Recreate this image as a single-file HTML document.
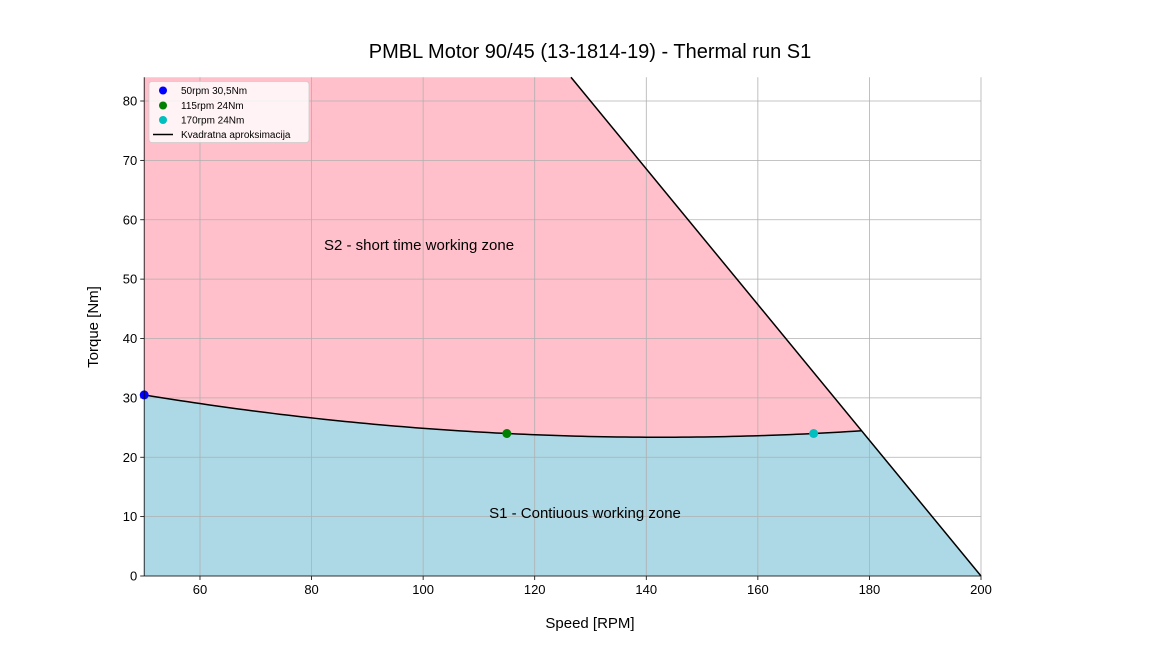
<!DOCTYPE html>
<html><head><meta charset="utf-8">
<style>
html,body{margin:0;padding:0;background:#fff;}
svg text{font-family:"Liberation Sans","DejaVu Sans",sans-serif;}
</style></head>
<body>
<svg id="chart" width="1152" height="648" viewBox="0 0 1152 648" xmlns="http://www.w3.org/2000/svg"></svg>
<script>
const xTicks = [60, 80, 100, 120, 140, 160, 180, 200];
const yTicks = [0, 10, 20, 30, 40, 50, 60, 70, 80];
const pointSpeeds = [50, 115, 170];
const pointTorques = [30.5, 24, 24];
const pointLabels = ["50rpm 30,5Nm", "115rpm 24Nm", "170rpm 24Nm"];
const pointColors = ["#0000ff", "#008000", "#00bfbf"];
const limitLineTop = [126.5, 84];
const limitLineBottom = [200, 0];
const xMin = 50, xMax = 200, yMin = 0, yMax = 84;

const L = 144.2, R = 981, T = 77.25, B = 576;
const sx = v => L + (v - xMin) / (xMax - xMin) * (R - L);
const sy = v => B - (v - yMin) / (yMax - yMin) * (B - T);
const NS = "http://www.w3.org/2000/svg";
const svg = document.getElementById("chart");
function mk(tag, attrs, parent) {
  const e = document.createElementNS(NS, tag);
  for (const k in attrs) e.setAttribute(k, attrs[k]);
  (parent || svg).appendChild(e);
  return e;
}

// quadratic through the three points (Lagrange)
function quad(x) {
  let s = 0;
  for (let i = 0; i < 3; i++) {
    let t = pointTorques[i];
    for (let j = 0; j < 3; j++) if (j !== i) t *= (x - pointSpeeds[j]) / (pointSpeeds[i] - pointSpeeds[j]);
    s += t;
  }
  return s;
}
const slope = (limitLineTop[1] - limitLineBottom[1]) / (limitLineTop[0] - limitLineBottom[0]);
const lineT = x => limitLineBottom[1] + slope * (x - limitLineBottom[0]);
// intersection
let lo = pointSpeeds[0], hi = limitLineBottom[0];
for (let i = 0; i < 60; i++) { const m = (lo + hi) / 2; if (lineT(m) > quad(m)) lo = m; else hi = m; }
const xi = (lo + hi) / 2;

// curve points
const curve = [];
for (let i = 0; i <= 100; i++) { const x = xMin + (xi - xMin) * i / 100; curve.push([x, quad(x)]); }
const cp = curve.map(p => sx(p[0]).toFixed(2) + "," + sy(p[1]).toFixed(2)).join(" L");

// S2 zone (pink)
let s2 = mk("path", {d: "M" + sx(xMin) + "," + sy(yMax) + " L" + sx(limitLineTop[0]) + "," + sy(yMax) + " L" + sx(xi) + "," + sy(lineT(xi)) + " L" + curve.slice().reverse().map(p => sx(p[0]).toFixed(2) + "," + sy(p[1]).toFixed(2)).join(" L") + " Z", fill: "#ffc0cb"});


// S1 zone (blue)
let s1 = mk("path", {d: "M" + sx(xMin) + "," + sy(0) + " L" + cp + " L" + sx(limitLineBottom[0]) + "," + sy(limitLineBottom[1]) + " Z", fill: "#add8e6"});



// grid
xTicks.forEach(v => {
  const g = mk("line", {x1: sx(v), x2: sx(v), y1: T, y2: B, stroke: "#b0b0b0", "stroke-width": 0.8});
  
  
  const tk = mk("line", {x1: sx(v), x2: sx(v), y1: B, y2: B + 4, stroke: "#000", "stroke-width": 0.8});
  
  
  const t = mk("text", {x: sx(v), y: B + 18, "text-anchor": "middle", "font-size": 13});
  t.textContent = v;
  
  
});
yTicks.forEach(v => {
  const g = mk("line", {x1: L, x2: R, y1: sy(v), y2: sy(v), stroke: "#b0b0b0", "stroke-width": 0.8});
  
  
  const tk = mk("line", {x1: L - 4, x2: L, y1: sy(v), y2: sy(v), stroke: "#000", "stroke-width": 0.8});
  
  
  const t = mk("text", {x: L - 7, y: sy(v) + 4.5, "text-anchor": "end", "font-size": 13});
  t.textContent = v;
  
  
});

// lines
let qc = mk("path", {d: "M" + cp, fill: "none", stroke: "#000", "stroke-width": 1.5});


let ll = mk("line", {x1: sx(limitLineTop[0]), y1: sy(limitLineTop[1]), x2: sx(limitLineBottom[0]), y2: sy(limitLineBottom[1]), stroke: "#000", "stroke-width": 1.5});



// points
pointSpeeds.forEach((v, i) => {
  const c = mk("circle", {cx: sx(v), cy: sy(pointTorques[i]), r: 4.5, fill: pointColors[i]});
  
  
});

// axes frame
let fr = mk("rect", {x: L, y: T, width: R - L, height: B - T, fill: "none", stroke: "none"});


let ax1 = mk("line", {x1: L, x2: R, y1: B, y2: B, stroke: "#000", "stroke-width": 0.8});


let ax2 = mk("line", {x1: L, x2: L, y1: T, y2: B, stroke: "#000", "stroke-width": 0.8});



// zone labels
let z2 = mk("text", {x: 419, y: 250, "text-anchor": "middle", "font-size": 15});
z2.textContent = "S2 - short time working zone";


let z1 = mk("text", {x: 585, y: 518, "text-anchor": "middle", "font-size": 15});
z1.textContent = "S1 - Contiuous working zone";



// titles
let ti = mk("text", {x: 590, y: 58, "text-anchor": "middle", "font-size": 20});
ti.textContent = "PMBL Motor 90/45 (13-1814-19) - Thermal run S1";


let xt = mk("text", {x: 590, y: 628, "text-anchor": "middle", "font-size": 15});
xt.textContent = "Speed [RPM]";


let yt = mk("text", {x: 98, y: 327, "text-anchor": "middle", "font-size": 15, transform: "rotate(-90 98 327)"});
yt.textContent = "Torque [Nm]";



// legend
const lg = mk("g", {});


mk("rect", {x: 149, y: 81.5, width: 160, height: 61, rx: 3, fill: "#fff", "fill-opacity": 0.8, stroke: "#ccc", "stroke-width": 0.8}, lg);
const rowY = [90.5, 105.5, 120, 134.5];
pointLabels.forEach((lab, i) => {
  const e = mk("g", {}, lg);
  
  
  mk("circle", {cx: 163, cy: rowY[i], r: 4, fill: pointColors[i]}, e);
  const t = mk("text", {x: 181, y: rowY[i] + 3.5, "font-size": 10}, e);
  t.textContent = lab;
});
const le = mk("g", {}, lg);


mk("line", {x1: 153, x2: 173, y1: rowY[3], y2: rowY[3], stroke: "#000", "stroke-width": 1.5}, le);
const lt = mk("text", {x: 181, y: rowY[3] + 3.5, "font-size": 10}, le);
lt.textContent = "Kvadratna aproksimacija";
</script>
</body></html>
